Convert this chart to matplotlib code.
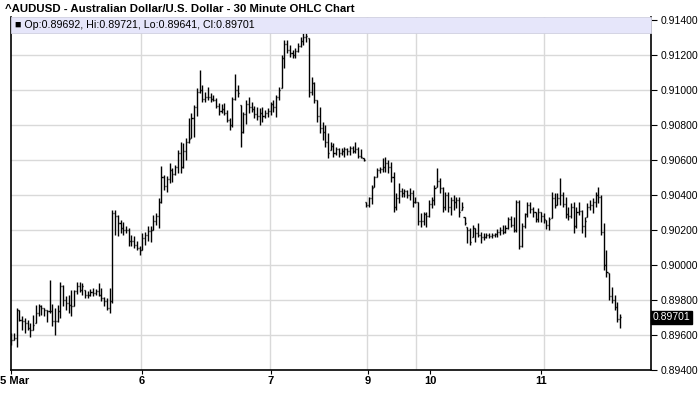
import numpy as np
import matplotlib
matplotlib.use('Agg')
import matplotlib.pyplot as plt
import matplotlib.transforms as mtransforms
from matplotlib.patches import Rectangle

plt.rcParams['font.family'] = ['Liberation Sans', 'DejaVu Sans']

title = '^AUDUSD - Australian Dollar/U.S. Dollar - 30 Minute OHLC Chart'
legend_text = 'Op:0.89692, Hi:0.89721, Lo:0.89641, Cl:0.89701'
last_close = 0.89701

# 30 minute bars, 5 Mar -> 11 Mar (bar index = position on x)
opens = [
    0.89580, 0.89573, 0.89580, 0.89745, 0.89688, 0.89678, 0.89669, 0.89640, 0.89630, 0.89669,
    0.89726, 0.89764, 0.89754, 0.89745, 0.89735, 0.89735, 0.89678, 0.89678, 0.89735, 0.89878,
    0.89802, 0.89783, 0.89773, 0.89764, 0.89850, 0.89878, 0.89859, 0.89855, 0.89831, 0.89831,
    0.89844, 0.89840, 0.89850, 0.89831, 0.89811, 0.89792, 0.89754, 0.89792, 0.90297, 0.90278,
    0.90240, 0.90212, 0.90198, 0.90198, 0.90135, 0.90135, 0.90116, 0.90097, 0.90088, 0.90154,
    0.90173, 0.90192, 0.90202, 0.90250, 0.90278, 0.90360, 0.90500, 0.90450, 0.90490, 0.90540,
    0.90520, 0.90560, 0.90640, 0.90560, 0.90650, 0.90700, 0.90724, 0.90840, 0.90900, 0.90990,
    0.91000, 0.90950, 0.90960, 0.90960, 0.90950, 0.90945, 0.90910, 0.90880, 0.90890, 0.90870,
    0.90830, 0.90800, 0.90950, 0.91000, 0.90914, 0.90760, 0.90860, 0.90920, 0.90900, 0.90890,
    0.90860, 0.90850, 0.90870, 0.90850, 0.90870, 0.90880, 0.90920, 0.90900, 0.90960, 0.91010,
    0.91180, 0.91260, 0.91230, 0.91210, 0.91200, 0.91220, 0.91250, 0.91280, 0.91300, 0.91295,
    0.90990, 0.91040, 0.90940, 0.90850, 0.90780, 0.90760, 0.90700, 0.90657, 0.90680, 0.90640,
    0.90660, 0.90640, 0.90650, 0.90660, 0.90650, 0.90670, 0.90650, 0.90660, 0.90620, 0.90610,
    0.90360, 0.90340, 0.90380, 0.90448, 0.90505, 0.90540, 0.90550, 0.90560, 0.90580, 0.90560,
    0.90500, 0.90330, 0.90380, 0.90420, 0.90410, 0.90420, 0.90400, 0.90410, 0.90360, 0.90360,
    0.90250, 0.90250, 0.90290, 0.90280, 0.90350, 0.90370, 0.90448, 0.90480, 0.90440, 0.90330,
    0.90400, 0.90330, 0.90370, 0.90360, 0.90370, 0.90314, 0.90276, 0.90219, 0.90200, 0.90162,
    0.90209, 0.90180, 0.90170, 0.90160, 0.90160, 0.90170, 0.90165, 0.90170, 0.90175, 0.90190,
    0.90200, 0.90190, 0.90210, 0.90260, 0.90230, 0.90200, 0.90360, 0.90110, 0.90220, 0.90290,
    0.90340, 0.90320, 0.90300, 0.90260, 0.90300, 0.90280, 0.90257, 0.90230, 0.90267, 0.90380,
    0.90343, 0.90380, 0.90400, 0.90350, 0.90290, 0.90280, 0.90330, 0.90220, 0.90300, 0.90310,
    0.90220, 0.90276, 0.90330, 0.90340, 0.90360, 0.90400, 0.90390, 0.90190, 0.90000, 0.89952,
    0.89820, 0.89800, 0.89760, 0.89692,
]
highs = [
    0.89611, 0.89611, 0.89754, 0.89745, 0.89710, 0.89697, 0.89688, 0.89669, 0.89716, 0.89773,
    0.89779, 0.89773, 0.89754, 0.89745, 0.89916, 0.89779, 0.89754, 0.89773, 0.89901, 0.89888,
    0.89821, 0.89831, 0.89859, 0.89859, 0.89905, 0.89901, 0.89897, 0.89855, 0.89850, 0.89863,
    0.89869, 0.89863, 0.89897, 0.89869, 0.89817, 0.89811, 0.89869, 0.90316, 0.90316, 0.90288,
    0.90259, 0.90244, 0.90225, 0.90212, 0.90173, 0.90164, 0.90135, 0.90107, 0.90183, 0.90187,
    0.90221, 0.90221, 0.90288, 0.90297, 0.90383, 0.90568, 0.90514, 0.90509, 0.90585, 0.90552,
    0.90571, 0.90657, 0.90705, 0.90699, 0.90724, 0.90838, 0.90867, 0.90914, 0.91010, 0.91114,
    0.91029, 0.90990, 0.91019, 0.90981, 0.90971, 0.90956, 0.90924, 0.90918, 0.90924, 0.90886,
    0.90838, 0.90962, 0.91090, 0.91029, 0.90914, 0.90872, 0.90943, 0.90962, 0.90933, 0.90910,
    0.90905, 0.90895, 0.90905, 0.90886, 0.90895, 0.90933, 0.90943, 0.90971, 0.91019, 0.91200,
    0.91286, 0.91286, 0.91257, 0.91229, 0.91238, 0.91267, 0.91305, 0.91324, 0.91337, 0.91295,
    0.91076, 0.91048, 0.90943, 0.90905, 0.90819, 0.90800, 0.90752, 0.90705, 0.90699, 0.90676,
    0.90667, 0.90667, 0.90676, 0.90670, 0.90680, 0.90680, 0.90705, 0.90676, 0.90661, 0.90610,
    0.90362, 0.90390, 0.90457, 0.90509, 0.90552, 0.90562, 0.90610, 0.90619, 0.90600, 0.90590,
    0.90533, 0.90410, 0.90467, 0.90438, 0.90432, 0.90429, 0.90438, 0.90429, 0.90390, 0.90362,
    0.90295, 0.90305, 0.90305, 0.90371, 0.90390, 0.90457, 0.90552, 0.90495, 0.90448, 0.90419,
    0.90419, 0.90390, 0.90400, 0.90390, 0.90390, 0.90362, 0.90276, 0.90219, 0.90209, 0.90229,
    0.90209, 0.90238, 0.90190, 0.90181, 0.90181, 0.90181, 0.90181, 0.90185, 0.90204, 0.90215,
    0.90229, 0.90229, 0.90276, 0.90280, 0.90276, 0.90371, 0.90371, 0.90238, 0.90295, 0.90358,
    0.90358, 0.90333, 0.90305, 0.90324, 0.90305, 0.90295, 0.90257, 0.90276, 0.90419, 0.90410,
    0.90410, 0.90495, 0.90419, 0.90390, 0.90333, 0.90352, 0.90362, 0.90333, 0.90362, 0.90314,
    0.90276, 0.90352, 0.90371, 0.90381, 0.90419, 0.90448, 0.90400, 0.90238, 0.90086, 0.89952,
    0.89872, 0.89829, 0.89790, 0.89721,
]
lows = [
    0.89545, 0.89570, 0.89531, 0.89678, 0.89630, 0.89611, 0.89630, 0.89589, 0.89630, 0.89669,
    0.89710, 0.89716, 0.89707, 0.89672, 0.89726, 0.89650, 0.89602, 0.89672, 0.89697, 0.89764,
    0.89745, 0.89726, 0.89707, 0.89764, 0.89836, 0.89844, 0.89831, 0.89811, 0.89811, 0.89821,
    0.89821, 0.89831, 0.89821, 0.89792, 0.89768, 0.89745, 0.89726, 0.89783, 0.90173, 0.90168,
    0.90183, 0.90173, 0.90183, 0.90107, 0.90107, 0.90097, 0.90088, 0.90059, 0.90088, 0.90116,
    0.90135, 0.90130, 0.90202, 0.90231, 0.90210, 0.90354, 0.90429, 0.90419, 0.90467, 0.90476,
    0.90514, 0.90524, 0.90524, 0.90552, 0.90600, 0.90695, 0.90724, 0.90730, 0.90852, 0.90981,
    0.90933, 0.90933, 0.90943, 0.90933, 0.90937, 0.90895, 0.90857, 0.90867, 0.90857, 0.90819,
    0.90771, 0.90790, 0.90943, 0.90962, 0.90676, 0.90752, 0.90804, 0.90867, 0.90872, 0.90838,
    0.90829, 0.90800, 0.90819, 0.90838, 0.90848, 0.90857, 0.90876, 0.90848, 0.90943, 0.91010,
    0.91124, 0.91210, 0.91190, 0.91181, 0.91181, 0.91219, 0.91248, 0.91257, 0.91276, 0.90962,
    0.90971, 0.90924, 0.90819, 0.90752, 0.90714, 0.90676, 0.90610, 0.90657, 0.90619, 0.90629,
    0.90619, 0.90629, 0.90619, 0.90629, 0.90629, 0.90642, 0.90638, 0.90610, 0.90610, 0.90596,
    0.90333, 0.90333, 0.90349, 0.90448, 0.90505, 0.90524, 0.90533, 0.90533, 0.90524, 0.90476,
    0.90305, 0.90314, 0.90352, 0.90390, 0.90390, 0.90381, 0.90371, 0.90333, 0.90352, 0.90229,
    0.90219, 0.90229, 0.90219, 0.90276, 0.90324, 0.90343, 0.90448, 0.90410, 0.90305, 0.90314,
    0.90305, 0.90286, 0.90314, 0.90324, 0.90276, 0.90314, 0.90229, 0.90124, 0.90114, 0.90162,
    0.90133, 0.90162, 0.90124, 0.90143, 0.90152, 0.90152, 0.90152, 0.90162, 0.90162, 0.90171,
    0.90177, 0.90181, 0.90204, 0.90219, 0.90190, 0.90190, 0.90090, 0.90105, 0.90210, 0.90276,
    0.90295, 0.90276, 0.90248, 0.90248, 0.90248, 0.90238, 0.90204, 0.90200, 0.90267, 0.90324,
    0.90343, 0.90343, 0.90333, 0.90267, 0.90257, 0.90267, 0.90181, 0.90210, 0.90286, 0.90181,
    0.90162, 0.90276, 0.90314, 0.90295, 0.90333, 0.90352, 0.90171, 0.89971, 0.89933, 0.89800,
    0.89781, 0.89743, 0.89676, 0.89641,
]
closes = [
    0.89573, 0.89580, 0.89745, 0.89688, 0.89678, 0.89669, 0.89640, 0.89630, 0.89659, 0.89726,
    0.89764, 0.89754, 0.89745, 0.89735, 0.89735, 0.89678, 0.89678, 0.89735, 0.89878, 0.89802,
    0.89783, 0.89773, 0.89764, 0.89850, 0.89878, 0.89859, 0.89878, 0.89831, 0.89831, 0.89844,
    0.89840, 0.89850, 0.89831, 0.89811, 0.89792, 0.89754, 0.89792, 0.90297, 0.90278, 0.90240,
    0.90212, 0.90198, 0.90198, 0.90135, 0.90135, 0.90116, 0.90097, 0.90088, 0.90154, 0.90173,
    0.90192, 0.90202, 0.90250, 0.90278, 0.90360, 0.90500, 0.90450, 0.90490, 0.90540, 0.90520,
    0.90560, 0.90640, 0.90560, 0.90650, 0.90700, 0.90720, 0.90840, 0.90900, 0.90990, 0.91000,
    0.90950, 0.90960, 0.90960, 0.90950, 0.90945, 0.90910, 0.90880, 0.90890, 0.90870, 0.90830,
    0.90800, 0.90950, 0.91000, 0.90980, 0.90760, 0.90860, 0.90920, 0.90900, 0.90890, 0.90860,
    0.90850, 0.90870, 0.90850, 0.90870, 0.90880, 0.90920, 0.90900, 0.90960, 0.91000, 0.91180,
    0.91260, 0.91230, 0.91210, 0.91200, 0.91220, 0.91250, 0.91280, 0.91300, 0.91310, 0.90990,
    0.91040, 0.90940, 0.90850, 0.90780, 0.90760, 0.90700, 0.90640, 0.90680, 0.90640, 0.90660,
    0.90640, 0.90650, 0.90660, 0.90650, 0.90670, 0.90650, 0.90660, 0.90620, 0.90615, 0.90600,
    0.90340, 0.90380, 0.90440, 0.90500, 0.90540, 0.90550, 0.90560, 0.90580, 0.90560, 0.90500,
    0.90330, 0.90380, 0.90420, 0.90410, 0.90420, 0.90400, 0.90410, 0.90360, 0.90360, 0.90250,
    0.90250, 0.90290, 0.90280, 0.90350, 0.90370, 0.90440, 0.90480, 0.90440, 0.90330, 0.90400,
    0.90330, 0.90370, 0.90360, 0.90370, 0.90300, 0.90330, 0.90240, 0.90200, 0.90130, 0.90210,
    0.90180, 0.90170, 0.90160, 0.90160, 0.90170, 0.90165, 0.90170, 0.90175, 0.90190, 0.90200,
    0.90190, 0.90210, 0.90260, 0.90230, 0.90200, 0.90360, 0.90110, 0.90220, 0.90290, 0.90340,
    0.90320, 0.90300, 0.90260, 0.90300, 0.90280, 0.90260, 0.90230, 0.90260, 0.90380, 0.90340,
    0.90380, 0.90400, 0.90350, 0.90290, 0.90280, 0.90330, 0.90220, 0.90300, 0.90310, 0.90220,
    0.90250, 0.90330, 0.90340, 0.90360, 0.90400, 0.90390, 0.90190, 0.90000, 0.89960, 0.89820,
    0.89800, 0.89760, 0.89690, 0.89701,
]

# day labels (bar position of label) and session grid lines (bar position)
day_labels = ['5 Mar', '6', '7', '9', '10', '11']
day_label_pos = [-0.1, 47.9, 95.1, 130.6, 153.4, 194.0]
day_grid_pos = [47.6, 94.8, 130.3, 148.1, 195.2]
price_ticks = [0.894, 0.896, 0.898, 0.900, 0.902, 0.904, 0.906, 0.908, 0.910, 0.912, 0.914]

fig = plt.figure(figsize=(7.0, 4.11), dpi=100)
ax = fig.add_axes([11 / 700, 1 - 370 / 411, 640 / 700, 353 / 411])

x = np.arange(len(closes))
w = 0.38
ax.vlines(x, lows, highs, color='black', lw=1.0, zorder=3)
ax.hlines(opens, x - w, x, color='black', lw=1.0, zorder=3)
ax.hlines(closes, x, x + w, color='black', lw=1.0, zorder=3)

ax.set_xlim(-0.11, 234.3)
ax.set_ylim(0.894, 0.91417)

# grid
for p in price_ticks[1:-1]:
    ax.axhline(p, color='#d9d9d9', lw=1.0, zorder=1)
for g in day_grid_pos:
    ax.axvline(g, color='#d9d9d9', lw=1.0, zorder=1)

ax.yaxis.tick_right()
ax.set_yticks(price_ticks)
ax.set_yticklabels(['%.5f' % p for p in price_ticks], fontsize=7.5)
ax.tick_params(axis='y', length=4, width=0.8, direction='out', pad=3)

ax.set_xticks(day_label_pos)
ax.set_xticklabels(day_labels, fontsize=8, fontweight='bold')
ax.tick_params(axis='x', length=3, width=0.8, pad=1)
# first label sits on the left edge: nudge it right so it stays on the canvas
first = ax.get_xticklabels()[0]
first.set_transform(first.get_transform() +
                    mtransforms.ScaledTranslation(4 / 100, 0, fig.dpi_scale_trans))

for s in ['left', 'bottom', 'right']:
    ax.spines[s].set_linewidth(1.2)
ax.spines['top'].set_visible(False)

# OHLC info band at top of plot
ax.add_patch(Rectangle((0, 1 - 16 / 353), 1, 16 / 353, transform=ax.transAxes,
                       facecolor='#e6e6fa', edgecolor='#d0d0e0', lw=0.6, zorder=4,
                       clip_on=False))
ax.text(4 / 640, 1 - 8 / 353, '\u25a0 ' + legend_text, transform=ax.transAxes,
        fontsize=7.7, va='center', ha='left', zorder=5)

# last price marker
ax.text(1.003, last_close, '%.5f' % last_close, transform=ax.get_yaxis_transform(),
        fontsize=7.5, color='white', va='center', ha='left',
        bbox=dict(boxstyle='square,pad=0.15', facecolor='black', edgecolor='black'),
        zorder=6, clip_on=False)

fig.text(5 / 700, 1 - 9 / 411, title, fontsize=8.2, fontweight='bold', va='center', ha='left')

fig.savefig('out.png', dpi=100)
